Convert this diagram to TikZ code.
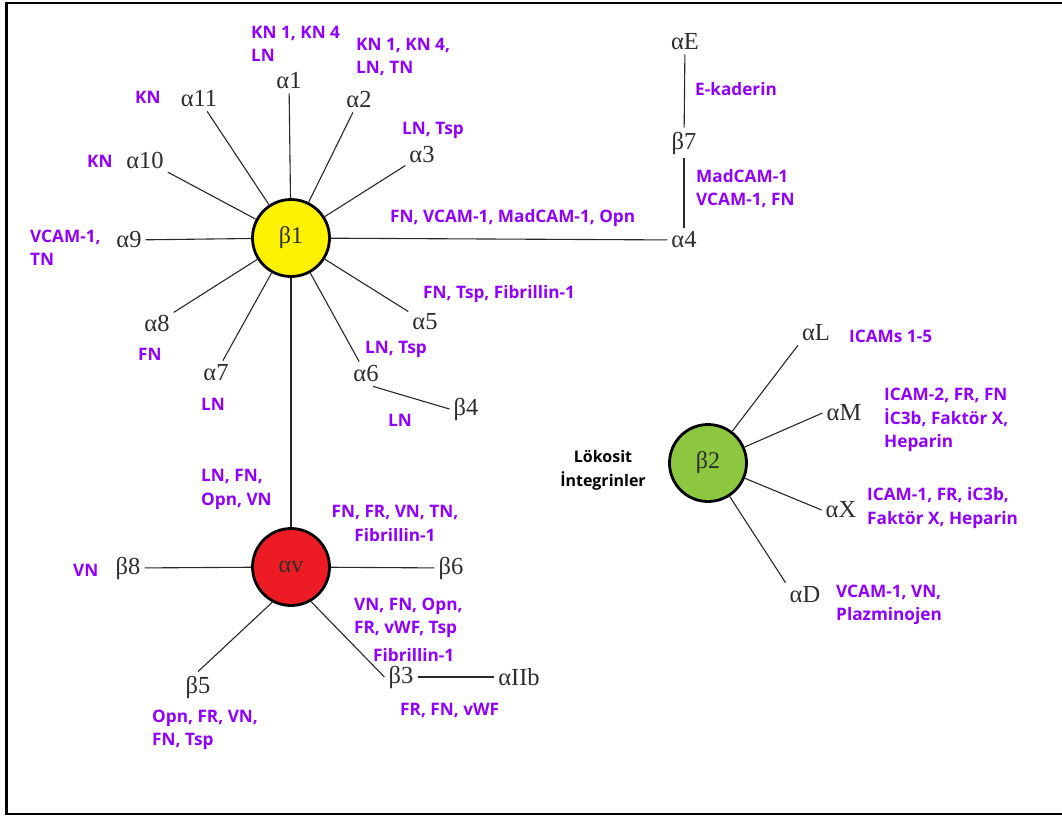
\documentclass[tikz,border=0pt]{standalone}
\usepackage{fontspec}
\newfontfamily\labfont{Open Sans}
\newfontfamily\grkfont{Liberation Serif}
\definecolor{purp}{RGB}{145,0,255}
\definecolor{gtext}{RGB}{45,45,45}
\definecolor{linec}{RGB}{40,40,40}
\definecolor{hubyellow}{RGB}{255,242,0}
\definecolor{hubred}{RGB}{237,28,36}
\definecolor{hubgreen}{RGB}{141,198,63}
\begin{document}
\begin{tikzpicture}[x=1pt,y=-1pt,
  gl/.style={font=\grkfont\fontsize{24.5}{24}\selectfont, text=gtext, inner sep=4pt},
  pl/.style={font=\labfont\bfseries\fontsize{17.2}{23.5}\selectfont, text=purp, align=left, anchor=west, inner sep=0pt},
  hub/.style={circle, draw=black, line width=2.8pt, minimum size=77pt, inner sep=0pt, font=\grkfont\fontsize{24}{24}\selectfont, text=gtext},
  spoke/.style={draw=linec, line width=1.1pt}]
\useasboundingbox (0,0) rectangle (1062,817);
\draw[line width=2.6pt] (1064,3) -- (6.5,3) -- (6.5,814) -- (1064,814);

% hubs
\node[hub, fill=hubyellow] (b1) at (291,238) {β1};
\node[hub, fill=hubred] (av) at (291,567) {αv};
\node[hub, fill=hubgreen] (b2) at (708,463) {β2};

% beta1 partners
\node[gl] (a1) at (289,81) {α1};
\node[gl] (a2) at (359,100) {α2};
\node[gl] (a3) at (422,155) {α3};
\node[gl] (a4) at (684,240) {α4};
\node[gl] (a5) at (425,322) {α5};
\node[gl] (a6) at (366,374) {α6};
\node[gl] (a7) at (216,373) {α7};
\node[gl] (a8) at (157,323) {α8};
\node[gl] (a9) at (129,240) {α9};
\node[gl] (a10) at (145,160) {α10};
\node[gl] (a11) at (199,99) {α11};
\node[gl] (b4) at (466,409) {β4};
\node[gl] (ae) at (685,42) {αE};
\node[gl] (b7) at (684,143) {β7};

% alpha v partners
\node[gl] (b8) at (128,568) {β8};
\node[gl] (b6) at (451,568) {β6};
\node[gl] (b5) at (198,687) {β5};
\node[gl] (b3) at (401,677) {β3};
\node[gl] (aIIb) at (519,677) {αIIb};

% beta2 partners
\node[gl] (aL) at (816,333) {αL};
\node[gl] (aM) at (844,413) {αM};
\node[gl] (aX) at (841,510) {αX};
\node[gl] (aD) at (805,595) {αD};

% connectors
\foreach \t in {a1,a2,a3,a4,a5,a6,a7,a8,a9,a10,a11}
  \draw[spoke] (b1) -- (\t);
\draw[spoke] (b1) -- (av);
\draw[spoke] (a6.-60) -- (b4.west);
\draw[spoke] (ae) -- (b7);
\draw[spoke] (b7) -- (a4);
\draw[spoke] (av) -- (b8);
\draw[spoke] (av) -- (b6);
\draw[spoke] (av.-118) -- (b5.north);
\draw[spoke] (av.-60) -- (b3.west);
\draw[spoke] (b3) -- (aIIb);
\draw[spoke] (b2) -- (aL.south west);
\draw[spoke] (b2) -- (aM.west);
\draw[spoke] (b2) -- (aX.west);
\draw[spoke] (b2) -- (aD.north west);

% ligand labels
\node[pl] (p1) at (251,44) {KN 1, KN 4\\LN};
\node[pl] (p2) at (356,57) {KN 1, KN 4,\\LN, TN};
\node[pl] (p3) at (135,97) {KN};
\node[pl] (p4) at (402,130) {LN, Tsp};
\node[pl] (p5) at (87,161) {KN};
\node[pl] (p6) at (30,248) {VCAM-1,\\TN};
\node[pl] (p7) at (390,218) {FN, VCAM-1, MadCAM-1, Opn};
\node[pl] (p8) at (423,294) {FN, Tsp, Fibrillin-1};
\node[pl] (p9) at (365,349) {LN, Tsp};
\node[pl] (p10) at (138,354) {FN};
\node[pl] (p11) at (201,404) {LN};
\node[pl] (p12) at (388,420) {LN};
\node[pl] (p13) at (695,89) {E-kaderin};
\node[pl] (p14) at (696,188.5) {MadCAM-1\\VCAM-1, FN};
\node[pl] (p15) at (849,336) {ICAMs 1-5};
\node[pl] (p16) at (884,420) {ICAM-2, FR, FN\\İC3b, Faktör X,\\Heparin};
\node[pl] (p17) at (867,508) {ICAM-1, FR, iC3b,\\Faktör X, Heparin};
\node[pl] (p18) at (836,605) {VCAM-1, VN,\\Plazminojen};
\node[pl, font=\labfont\bfseries\fontsize{16}{24}\selectfont, text=black, align=center, anchor=center] (p19) at (603,470) {Lökosit\\İntegrinler};
\node[pl] (p20) at (201,489.5) {LN, FN,\\Opn, VN};
\node[pl, align=center, anchor=center] (p21) at (395,523.5) {FN, FR, VN, TN,\\Fibrillin-1};
\node[pl] (p22) at (73,570) {VN};
\node[pl] (p23) at (354,618) {VN, FN, Opn,\\FR, vWF, Tsp};
\node[pl] (p24) at (373,655) {Fibrillin-1};
\node[pl] (p25) at (400,710) {FR, FN, vWF};
\node[pl] (p26) at (152,730) {Opn, FR, VN,\\FN, Tsp};
\end{tikzpicture}
\end{document}
